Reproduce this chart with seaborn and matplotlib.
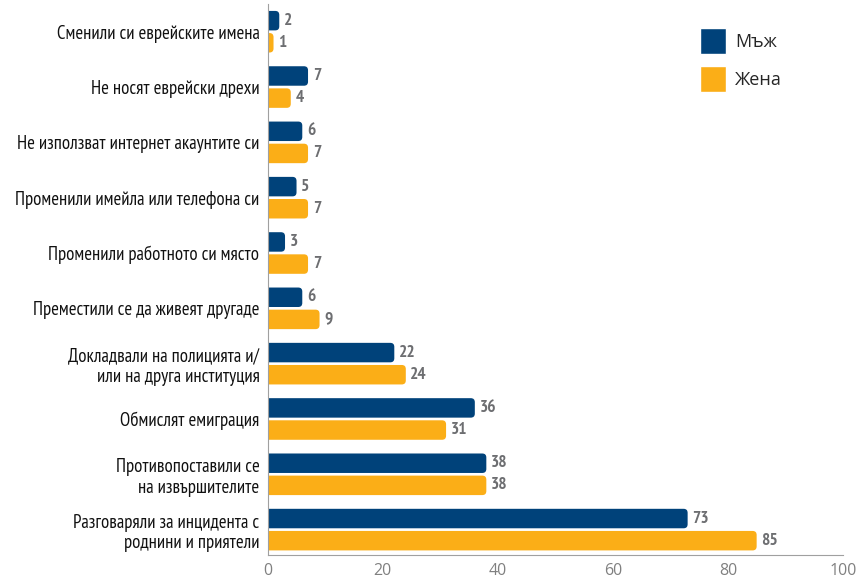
# -*- coding: utf-8 -*-
import pandas as pd
import matplotlib.pyplot as plt
import seaborn as sns
from matplotlib import font_manager as fm
from matplotlib.patches import FancyBboxPatch, Patch

# Datos
categorias = [
    "Сменили си еврейските имена",
    "Не носят еврейски дрехи",
    "Не използват интернет акаунтите си",
    "Променили имейла или телефона си",
    "Променили работното си място",
    "Преместили се да живеят другаде",
    "Докладвали на полицията и/\nили на друга институция",
    "Обмислят емиграция",
    "Противопоставили се\nна извършителите",
    "Разговаряли за инцидента с\nроднини и приятели",
]
mazh = [2, 7, 6, 5, 3, 6, 22, 36, 38, 73]
zhena = [1, 4, 7, 7, 7, 9, 24, 31, 38, 85]
grupos = ["Мъж", "Жена"]
colores = ["#00427a", "#fbae17"]
xticks = [0, 20, 40, 60, 80, 100]

df = pd.DataFrame({
    "categoria": categorias * 2,
    "valor": mazh + zhena,
    "grupo": [grupos[0]] * len(categorias) + [grupos[1]] * len(categorias),
})

# Fuente condensada (la primera que esté instalada)
instaladas = {f.name for f in fm.fontManager.ttflist}
preferidas = ["PT Sans Narrow", "Fira Sans Condensed", "Roboto Condensed",
              "Open Sans Condensed", "Liberation Sans Narrow"]
condensada = next((f for f in preferidas if f in instaladas), "DejaVu Sans")

sns.set_style("white")
plt.rcParams["font.family"] = [condensada, "DejaVu Sans"]

fig = plt.figure(figsize=(8.61, 5.8), dpi=100)
ax = fig.add_axes([0.311, 0.043, 0.668, 0.95])

sns.barplot(data=df, y="categoria", x="valor", hue="grupo", palette=colores,
            saturation=1, orient="h", width=0.8, gap=0.12, ax=ax, legend=False)

ax.set_xlim(0, 100)
ax.set_ylim(9.46, -0.5)

# Barras con esquinas redondeadas (el lado izquierdo queda oculto tras el eje)
gris = "#6d6e71"
aspecto = (ax.bbox.width / 100) / (ax.bbox.height / 9.96)
for barra in list(ax.patches):
    x0, y0 = barra.get_x(), barra.get_y()
    w, h = barra.get_width(), barra.get_height()
    color = barra.get_facecolor()
    barra.set_visible(False)
    redonda = FancyBboxPatch((x0 - 2, y0), w + 2, h, boxstyle="round,pad=0,rounding_size=0.7",
                             mutation_aspect=aspecto, facecolor=color, edgecolor="none")
    ax.add_patch(redonda)
    ax.text(x0 + w + 0.8, y0 + h / 2, f"{int(w)}", va="center", ha="left",
            fontsize=12.5, fontweight="bold", color=gris)

ax.set_xticks(xticks)
ax.set_xlabel("")
ax.set_ylabel("")
ax.tick_params(axis="x", direction="in", length=5, color="#a0a0a0", labelcolor="#808080",
               pad=6)
ax.tick_params(axis="y", length=0, labelsize=13.5, labelcolor="#111111", pad=6)
for lbl in ax.get_xticklabels():
    lbl.set_family("Open Sans")
    lbl.set_fontsize(11.5)
for lbl in ax.get_yticklabels():
    lbl.set_linespacing(1.2)

ax.spines["top"].set_visible(False)
ax.spines["right"].set_visible(False)
ax.spines["left"].set_color("#a0a0a0")
ax.spines["bottom"].set_color("#a0a0a0")

# Leyenda
manijas = [Patch(facecolor=c, label=g) for c, g in zip(colores, grupos)]
fig.legend(handles=manijas, loc="upper left", bbox_to_anchor=(700 / 861, 1 - 28 / 580),
           frameon=False, borderpad=0, borderaxespad=0,
           handlelength=1.45, handleheight=1.85, labelspacing=0.65, handletextpad=0.5,
           prop={"family": "Open Sans", "size": 13})

fig.savefig("out.png", dpi=100)
